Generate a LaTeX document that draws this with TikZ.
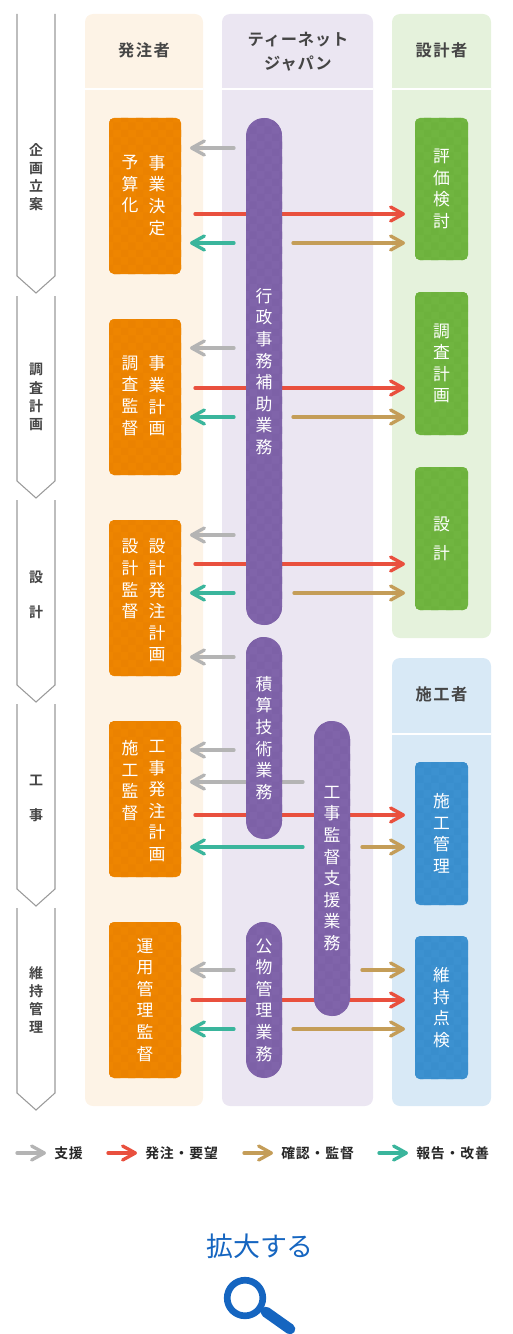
\documentclass[tikz,border=0pt]{standalone}
\usepackage{fontspec}
\usetikzlibrary{arrows.meta,patterns}
\newfontfamily\cjk{Noto Sans CJK JP}
\newfontfamily\cjkb{Noto Sans CJK JP Bold}
\newfontfamily\cjkh[LetterSpace=9]{Noto Sans CJK JP Bold}
\newfontfamily\cjkk[LetterSpace=5]{Noto Sans CJK JP Bold}
\newfontfamily\cjkl[LetterSpace=6]{Noto Sans CJK JP Bold}
\definecolor{panelA}{HTML}{FDF3E6}
\definecolor{panelB}{HTML}{EBE6F2}
\definecolor{panelC}{HTML}{E5F2DC}
\definecolor{panelD}{HTML}{D8E9F6}
\definecolor{orangeC}{HTML}{EE8500}
\definecolor{orangeP}{HTML}{EB8200}
\definecolor{purpleC}{HTML}{8064AA}
\definecolor{purpleP}{HTML}{7D61A7}
\definecolor{greenC}{HTML}{70B540}
\definecolor{greenP}{HTML}{6DB23D}
\definecolor{blueC}{HTML}{3C91D0}
\definecolor{blueP}{HTML}{398ECD}
\definecolor{inkC}{HTML}{454545}
\definecolor{phaseC}{HTML}{9A9A9A}
\definecolor{supC}{HTML}{B4B4B4}
\definecolor{ordC}{HTML}{E9503E}
\definecolor{chkC}{HTML}{C49D58}
\definecolor{repC}{HTML}{3AB59C}
\definecolor{linkC}{HTML}{1565C0}
\tikzset{
 panel/.style={draw=none,rounded corners=6pt,inner sep=0pt},
 headrule/.style={draw=white,line width=1.6pt},
 headtext/.style={text=inkC,font=\cjkh\fontsize{12.2}{18}\selectfont,align=center,inner sep=0pt},
 vbox/.style={text=white,inner sep=0pt,align=center,font=\cjk\fontsize{12.6}{16.2}\selectfont},
 ordbox/.style={vbox,fill=orangeC,rounded corners=3.7pt,minimum width=54pt,postaction={pattern=checkerboard,pattern color=orangeP}},
 barbox/.style={vbox,fill=purpleC,rounded corners=13.4pt,minimum width=27pt,postaction={pattern=checkerboard,pattern color=purpleP}},
 grnbox/.style={vbox,fill=greenC,rounded corners=3.7pt,minimum width=39.75pt,postaction={pattern=checkerboard,pattern color=greenP}},
 blubox/.style={vbox,fill=blueC,rounded corners=3.7pt,minimum width=39.75pt,postaction={pattern=checkerboard,pattern color=blueP}},
 coltext/.style={text=white,inner sep=0pt,align=center,anchor=north,font=\cjk\fontsize{12.6}{16.2}\selectfont},
 phasetext/.style={text=inkC,inner sep=0pt,align=center,font=\cjkb\fontsize{10.5}{13.6}\selectfont},
 phaseline/.style={draw=phaseC,line width=.8pt,line join=miter},
 flow/.style={line width=2.5pt,line cap=round,-{Straight Barb[length=9.5pt,width=10.5pt,round]}},
 sup/.style={flow,draw=supC},
 ord/.style={flow,draw=ordC},
 chk/.style={flow,draw=chkC},
 rep/.style={flow,draw=repC},
 legendtext/.style={text=black!85,inner sep=0pt,anchor=west,font=\cjkl\fontsize{10.4}{12}\selectfont},
}
\newcounter{fl}
\newcommand{\flowarrow}[4]{% style, x from, x to, y
  \stepcounter{fl}
  \coordinate (f\thefl a) at (#2,#4);
  \coordinate (f\thefl b) at (#3,#4);
  \draw[#1] (f\thefl a) -- (f\thefl b);
}
\newcommand{\phaseshape}[2]{% top, tip
  \draw[phaseline] (17,#1) -- (17,{#2-17}) -- (36,#2) -- (55,{#2-17}) -- (55,#1);
}
\begin{document}
\begin{tikzpicture}[x=0.75pt,y=-0.75pt]
\useasboundingbox (0,0) rectangle (512,1334);
% panels
\node[panel,fill=panelA,minimum width=88.5pt,minimum height=819pt] (pA) at (144,560) {};
\node[panel,fill=panelB,minimum width=113.25pt,minimum height=819pt] (pB) at (297.5,560) {};
\node[panel,fill=panelC,minimum width=74.25pt,minimum height=468pt] (pC) at (441.5,326) {};
\node[panel,fill=panelD,minimum width=74.25pt,minimum height=336pt] (pD) at (441.5,882) {};
\draw[headrule] (pA.west |- 0,89) -- (pA.east |- 0,89);
\draw[headrule] (pB.west |- 0,89) -- (pB.east |- 0,89);
\draw[headrule] (pC.west |- 0,89) -- (pC.east |- 0,89);
\draw[headrule] (pD.west |- 0,734) -- (pD.east |- 0,734);
\node[headtext] (hA) at (144,50) {発注者};
\node[headtext,font=\cjkk\fontsize{12.2}{18}\selectfont] (hB) at (298,52) {ティーネット\\ジャパン};
\node[headtext] (hC) at (441.5,50) {設計者};
\node[headtext] (hD) at (441.5,694) {施工者};
% phases
\phaseshape{14}{293}
\phaseshape{296}{498}
\phaseshape{500}{702}
\phaseshape{704}{906}
\phaseshape{908}{1110}
\node[phasetext] (ph1) at (36,177) {企\\画\\立\\案};
\node[phasetext] (ph2) at (36,397) {調\\査\\計\\画};
\node[phasetext] (ph3) at (36,594.5) {設\\[1.2em]計};
\node[phasetext] (ph4) at (36,798.5) {工\\[1.2em]事};
\node[phasetext] (ph5) at (36,1000) {維\\持\\管\\理};
% arrows (behind the bars)
\flowarrow{sup}{234}{190}{148}
\flowarrow{ord}{195}{405}{214}
\flowarrow{rep}{234}{190}{243}
\flowarrow{chk}{293}{405}{243}
\flowarrow{sup}{234}{190}{348}
\flowarrow{ord}{195}{405}{388}
\flowarrow{rep}{234}{190}{417}
\flowarrow{chk}{293}{405}{417}
\flowarrow{sup}{234}{190}{535}
\flowarrow{ord}{195}{405}{564}
\flowarrow{rep}{234}{190}{593}
\flowarrow{chk}{294}{405}{593}
\flowarrow{sup}{234}{190}{657}
\flowarrow{sup}{234}{190}{750}
\flowarrow{sup}{303}{190}{782}
\flowarrow{ord}{195}{405}{815}
\flowarrow{rep}{303}{190}{847}
\flowarrow{chk}{362}{405}{847}
\flowarrow{sup}{234}{190}{970}
\flowarrow{chk}{362}{405}{970}
\flowarrow{ord}{192}{405}{1000}
\flowarrow{rep}{234}{190}{1029}
\flowarrow{chk}{293}{405}{1029}
% orange boxes
\node[ordbox,minimum height=117pt] (o1) at (145,196) {};
\node[ordbox,minimum height=117pt] (o2) at (145,397) {};
\node[ordbox,minimum height=117pt] (o3) at (145,598) {};
\node[ordbox,minimum height=117pt] (o4) at (145,799) {};
\node[ordbox,minimum height=117pt] (o5) at (145,1000) {運\\用\\管\\理\\監\\督};
\node[coltext] (o1a) at (157,155) {事\\業\\決\\定};
\node[coltext] (o1b) at (130,155) {予\\算\\化};
\node[coltext] (o2a) at (157,355.5) {事\\業\\計\\画};
\node[coltext] (o2b) at (130,355.5) {調\\査\\監\\督};
\node[coltext] (o3a) at (157,539) {設\\計\\発\\注\\計\\画};
\node[coltext] (o3b) at (130,539) {設\\計\\監\\督};
\node[coltext] (o4a) at (157,740) {工\\事\\発\\注\\計\\画};
\node[coltext] (o4b) at (130,740) {施\\工\\監\\督};
% bars
\node[barbox,minimum height=380.25pt] (b1) at (264,371.5) {行\\政\\事\\務\\補\\助\\業\\務};
\node[barbox,minimum height=151.5pt] (b2) at (264,738) {積\\算\\技\\術\\業\\務};
\node[barbox,minimum height=221.25pt] (b3) at (332,868.5) {工\\事\\監\\督\\支\\援\\業\\務};
\node[barbox,minimum height=117pt] (b4) at (264,1000) {公\\物\\管\\理\\業\\務};
% green and blue boxes
\node[grnbox,minimum height=106.5pt] (g1) at (441.5,189) {評\\価\\検\\討};
\node[grnbox,minimum height=107.25pt] (g2) at (441.5,363.5) {調\\査\\計\\画};
\node[grnbox,minimum height=107.25pt] (g3) at (441.5,538.5) {設\\[.44em]計};
\node[blubox,minimum height=107.25pt] (s1) at (441.5,833.5) {施\\工\\管\\理};
\node[blubox,minimum height=107.25pt] (s2) at (441.5,1007.5) {維\\持\\点\\検};
% legend
\flowarrow{sup}{17}{46}{1153}
\node[legendtext] (l1) at (54,1153) {支援};
\flowarrow{ord}{108}{137}{1153}
\node[legendtext] (l2) at (145,1153) {発注・要望};
\flowarrow{chk}{244}{273}{1153}
\node[legendtext] (l3) at (281,1153) {確認・監督};
\flowarrow{rep}{379}{408}{1153}
\node[legendtext] (l4) at (416,1153) {報告・改善};
% zoom link
\node[text=linkC,inner sep=0pt,font=\cjk\fontsize{20.2}{24}\selectfont] (zoomtext) at (260,1246) {拡大する};
\draw[linkC,line width=5pt] (245,1298) circle[radius=17.8];
\draw[linkC,line width=8pt,line cap=round] (266,1312) -- (290,1329);
\end{tikzpicture}
\end{document}
